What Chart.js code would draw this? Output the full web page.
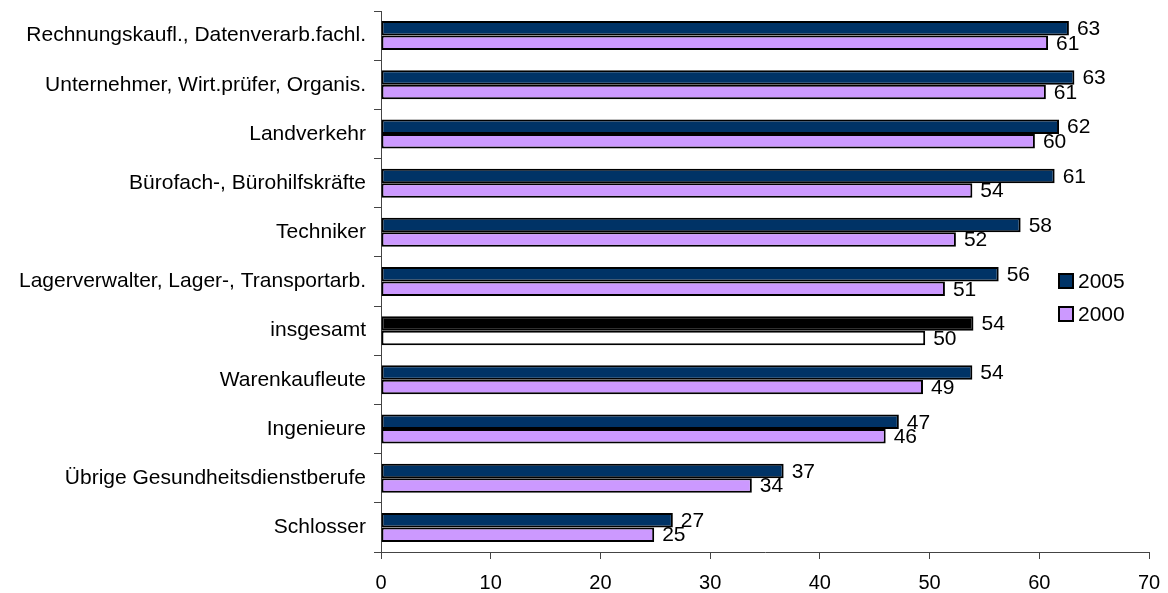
<!DOCTYPE html>
<html>
<head>
<meta charset="utf-8">
<script src="https://cdn.jsdelivr.net/npm/chart.js@4.4.1/dist/chart.umd.min.js"></script>
<style>
  html, body { margin: 0; padding: 0; background: #fff; }
  #wrap { width: 1168px; height: 593px; }
</style>
</head>
<body>
<div id="wrap"><canvas id="berufeChart" width="1168" height="593"></canvas></div>
<script>
const categories = [
	'Rechnungskaufl., Datenverarb.fachl.',
	'Unternehmer, Wirt.prüfer, Organis.',
	'Landverkehr',
	'Bürofach-, Bürohilfskräfte',
	'Techniker',
	'Lagerverwalter, Lager-, Transportarb.',
	'insgesamt',
	'Warenkaufleute',
	'Ingenieure',
	'Übrige Gesundheitsdienstberufe',
	'Schlosser'
];
const values2005 = [62.7, 63.2, 61.8, 61.4, 58.3, 56.3, 54.0, 53.9, 47.2, 36.7, 26.6];
const values2000 = [60.8, 60.6, 59.6, 53.9, 52.4, 51.4, 49.6, 49.4, 46.0, 33.8, 24.9];
const xTicks = [0, 10, 20, 30, 40, 50, 60, 70];

const totalIndex = categories.indexOf('insgesamt');
const FONT = '"Liberation Sans", Arial, sans-serif';

const color2005 = '#003366';
const color2000 = '#CC99FF';

// insgesamt row is highlighted black / white
const fill2005 = categories.map((c, i) => i === totalIndex ? '#000000' : color2005);
const fill2000 = categories.map((c, i) => i === totalIndex ? '#FFFFFF' : color2000);

// value labels at the end of each bar
const valueLabels = {
	id: 'valueLabels',
	afterDatasetsDraw(chart) {
		const ctx = chart.ctx;
		ctx.save();
		ctx.font = '21px ' + FONT;
		ctx.fillStyle = '#000';
		ctx.textAlign = 'left';
		ctx.textBaseline = 'middle';
		chart.data.datasets.forEach((ds, di) => {
			chart.getDatasetMeta(di).data.forEach((bar, i) => {
				ctx.fillText(String(Math.round(ds.data[i])), bar.x + 8, bar.y + 1);
			});
		});
		ctx.restore();
	}
};

// legend box on the right, inside the plot
const sideLegend = {
	id: 'sideLegend',
	afterDraw(chart) {
		const ctx = chart.ctx;
		ctx.save();
		ctx.font = '21px ' + FONT;
		ctx.textAlign = 'left';
		ctx.textBaseline = 'middle';
		const x = 1059;
		let y = 281;
		[color2005, color2000].forEach((col, i) => {
			ctx.fillStyle = col;
			ctx.fillRect(x, y - 7, 14, 14);
			ctx.strokeStyle = '#000';
			ctx.lineWidth = 2;
			ctx.strokeRect(x, y - 7, 14, 14);
			ctx.fillStyle = '#000';
			ctx.fillText(chart.data.datasets[i].label, x + 19, y + 1);
			y += 33;
		});
		ctx.restore();
	}
};

const ctx = document.getElementById('berufeChart').getContext('2d');
new Chart(ctx, {
	type: 'bar',
	data: {
		labels: categories,
		datasets: [{
			label: '2005',
			data: values2005,
			backgroundColor: fill2005,
			borderColor: '#000',
			borderWidth: 2,
			borderSkipped: false
		}, {
			label: '2000',
			data: values2000,
			backgroundColor: fill2000,
			borderColor: '#000',
			borderWidth: 2,
			borderSkipped: false
		}]
	},
	options: {
		indexAxis: 'y',
		responsive: false,
		animation: false,
		categoryPercentage: 0.59,
		barPercentage: 1.0,
		layout: { padding: { top: 11, right: 19, left: 0, bottom: 0 } },
		plugins: {
			legend: { display: false },
			tooltip: { enabled: false }
		},
		scales: {
			x: {
				min: 0,
				max: 70,
				afterBuildTicks: (scale) => { scale.ticks = xTicks.map(v => ({ value: v })); },
				afterFit: (scale) => {
					scale.height = 41;
					scale.paddingLeft = 0;
					scale.paddingRight = 0;
				},
				border: { color: '#444', width: 1 },
				grid: { drawOnChartArea: false, drawTicks: true, tickLength: 7, color: '#444' },
				ticks: { color: '#000', padding: 12, font: { family: FONT, size: 20 } }
			},
			y: {
				afterFit: (scale) => {
					scale.width = 381;
					scale.paddingTop = 0;
					scale.paddingBottom = 0;
				},
				border: { color: '#444', width: 1 },
				grid: { drawOnChartArea: false, drawTicks: true, tickLength: 7, color: '#444', offset: true },
				ticks: { color: '#000', padding: 8, font: { family: FONT, size: 21 } }
			}
		}
	},
	plugins: [valueLabels, sideLegend]
});
</script>
</body>
</html>
